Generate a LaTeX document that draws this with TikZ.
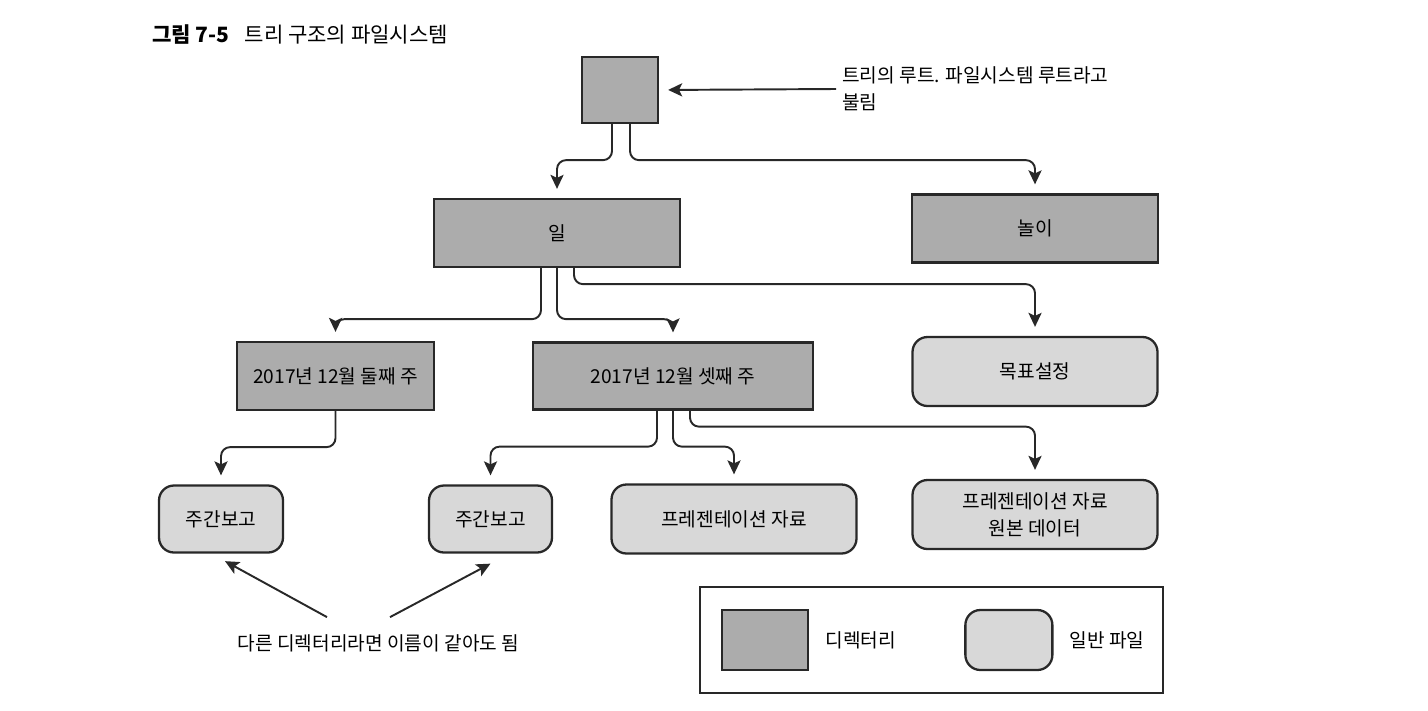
\documentclass[tikz,border=0pt]{standalone}
\usepackage{fontspec}
\setmainfont{Noto Sans CJK KR}
\usetikzlibrary{positioning,arrows.meta}
\definecolor{dirgray}{RGB}{172,172,172}
\definecolor{filegray}{RGB}{216,216,216}
\definecolor{linegray}{RGB}{40,40,40}
\begin{document}
\begin{tikzpicture}[node distance=2.86cm, >={Stealth[length=8pt,width=7.5pt,inset=1.8pt]}, font=\fontsize{10.9}{15.3}\selectfont]
        \tikzstyle{dirbox} = [draw=linegray, line width=1.3pt, rectangle, fill=dirgray, minimum height=1.36cm, minimum width=4.92cm];
        \tikzstyle{filebox} = [draw=linegray, line width=1.3pt, rectangle, rounded corners=0.3cm, fill=filegray, minimum height=1.38cm, minimum width=4.9cm];
        \tikzstyle{link} = [->, line width=1.1pt, draw=linegray, rounded corners=0.18cm, shorten >=0.18cm];

        \useasboundingbox (0,0) rectangle (28.56,-14.2);

        \node(title)[anchor=west, font=\fontsize{12}{14}\selectfont] at (2.92,-0.7){\textbf{그림 7-5}\hspace{0.3cm}트리 구조의 파일시스템};

        \node(root)[dirbox, minimum width=1.52cm, minimum height=1.32cm] at (12.4,-1.8){};
        \node(rootnote)[anchor=west, align=left] at (16.72,-1.78){트리의 루트. 파일시스템 루트라고\\불림};

        \node(il)[dirbox, below of=root, xshift=-1.26cm]{일};
        \node(nori)[dirbox, right of=il, xshift=6.7cm, yshift=0.09cm]{놀이};

        \node(week2)[dirbox, below of=il, xshift=-4.43cm, minimum width=3.94cm]{2017년 12월 둘째 주};
        \node(week3)[dirbox, below of=il, xshift=2.32cm, minimum width=5.6cm, minimum height=1.34cm]{2017년 12월 셋째 주};
        \node(goal)[filebox, below of=nori]{목표설정};

        \node(rep1)[filebox, below of=week2, xshift=-2.29cm, minimum width=2.48cm, minimum height=1.34cm]{주간보고};
        \node(rep2)[filebox, below of=week3, xshift=-3.65cm, minimum width=2.46cm, minimum height=1.34cm]{주간보고};
        \node(pres)[filebox, below of=week3, xshift=1.22cm]{프레젠테이션 자료};
        \node(raw)[filebox, below of=goal, align=center]{프레젠테이션 자료\\원본 데이터};

        \node(samename) at (7.57,-12.86){다른 디렉터리라면 이름이 같아도 됨};
        \coordinate(lefttail) at ([xshift=-1.03cm, yshift=0.22cm]samename.north);
        \coordinate(righttail) at ([xshift=0.23cm, yshift=0.22cm]samename.north);

        \node(legend)[draw=linegray, line width=1.1pt, rectangle, minimum width=9.26cm, minimum height=2.12cm] at (18.63,-12.8){};
        \node(legdir)[dirbox, minimum width=1.72cm, minimum height=1.2cm, right=0.44cm of legend.west]{};
        \node(legdirtext)[right=0.2cm of legdir]{디렉터리};
        \node(legfile)[filebox, minimum width=1.74cm, minimum height=1.2cm, right=1.24cm of legdirtext]{};
        \node(legfiletext)[right=0.2cm of legfile]{일반 파일};

        \draw [->, line width=1.1pt, draw=linegray, shorten >=0.18cm] (rootnote.west) -- (root.east);

        \draw [link] ([xshift=-0.16cm]root.south) -- ++(0,-0.72cm) -| (il);
        \draw [link] ([xshift=0.2cm]root.south) -- ++(0,-0.72cm) -| (nori);

        \draw [link] ([xshift=-0.32cm]il.south) -- ++(0,-1.02cm) -| (week2);
        \draw [link] (il.south) -- ++(0,-1.02cm) -| (week3);
        \draw [link] ([xshift=0.34cm]il.south) -- ++(0,-0.32cm) -| (goal);

        \draw [link] (week2.south) -- ++(0,-0.72cm) -| (rep1);

        \draw [link] ([xshift=-0.32cm]week3.south) -- ++(0,-0.72cm) -| (rep2);
        \draw [link] (week3.south) -- ++(0,-0.72cm) -| (pres);
        \draw [link] ([xshift=0.34cm]week3.south) -- ++(0,-0.32cm) -| (raw);

        \draw [->, line width=1.1pt, draw=linegray] (lefttail) -- ([xshift=0.08cm, yshift=-0.15cm]rep1.south);
        \draw [->, line width=1.1pt, draw=linegray] (righttail) -- ([yshift=-0.2cm]rep2.south);
    \end{tikzpicture}
\end{document}
